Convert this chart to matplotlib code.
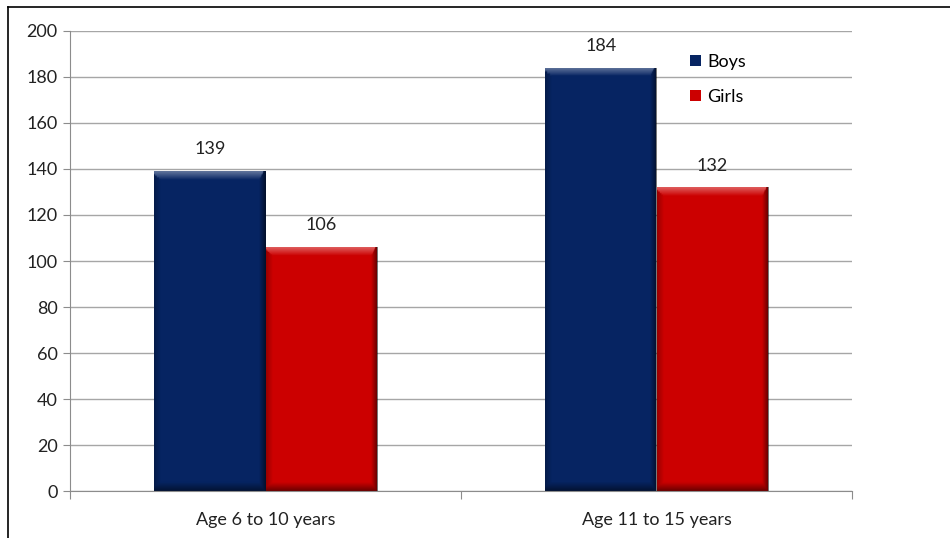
import numpy as np
import matplotlib
matplotlib.use("Agg")
import matplotlib.pyplot as plt
from matplotlib.lines import Line2D

plt.rcParams['font.family'] = ['Lato', 'DejaVu Sans']

# data
categories = ['Age 6 to 10 years', 'Age 11 to 15 years']
boys = [139, 184]
girls = [106, 132]
series_names = ['Boys', 'Girls']
colors = ['#062462', '#cc0000']
yticks = list(range(0, 201, 20))

FS = 13


def bevel(ax, patch):
    """Overlay a soft bevel shading on a bar, clipped to the bar."""
    x0, y0 = patch.get_x(), patch.get_y()
    w, h = patch.get_width(), patch.get_height()
    n = 200
    xs = np.linspace(0, 1, n)
    ys = np.linspace(0, 1, n)
    X, Y = np.meshgrid(xs, ys)
    ex = 0.06
    ey = 0.012 * 200 / max(h, 1)
    shade = np.zeros((n, n, 4))
    right = np.clip(1 - (1 - X) / ex, 0, 1)
    left = np.clip(1 - X / ex, 0, 1)
    top = np.clip(1 - (1 - Y) / (ey * 1.5), 0, 1)
    bot = np.clip(1 - Y / (ey * 1.5), 0, 1)
    dark = np.maximum(right * 0.55, bot * 0.45)
    dark = np.maximum(dark, left * 0.25)
    light = top * 0.35
    alpha = np.maximum(dark, light)
    shade[..., :3] = np.where((light > dark)[..., None], 1.0, 0.0)
    shade[..., 3] = alpha
    im = ax.imshow(shade, extent=(x0, x0 + w, y0, y0 + h), origin='lower',
                   aspect='auto', interpolation='bilinear', zorder=3)
    im.set_clip_path(patch)


fig = plt.figure(figsize=(9.5, 5.38), dpi=100)
ax = fig.add_axes([70 / 950, 1 - 491 / 538, 782 / 950, 460 / 538])

x = np.arange(len(categories))
width = 0.284
for i, (vals, name, col) in enumerate(zip([boys, girls], series_names, colors)):
    pos = x + (i - 0.5) * width
    bars = ax.bar(pos, vals, width, color=col, label=name, zorder=2,
                  edgecolor='none')
    for b, v in zip(bars, vals):
        bevel(ax, b)
        ax.text(b.get_x() + b.get_width() / 2, v + 6, str(v), ha='center',
                va='bottom', fontsize=FS, color='#222222', zorder=4)

ax.set_xlim(-0.5, 1.5)
ax.set_ylim(0, 200)
ax.set_yticks(yticks)
ax.yaxis.grid(True, color='#a6a6a6', linewidth=1)
ax.set_axisbelow(True)

ax.set_xticks([-0.5, 0.5, 1.5])
ax.set_xticklabels([])
ax.set_xticks(x, minor=True)
ax.set_xticklabels(categories, minor=True)
ax.tick_params(axis='x', which='minor', length=0, pad=15, labelsize=FS,
               labelcolor='#222222')
ax.tick_params(axis='x', which='major', length=6, color='#8c8c8c')
ax.tick_params(axis='y', length=5, color='#8c8c8c', labelsize=FS,
               labelcolor='#222222', pad=4)

for s in ['top', 'right']:
    ax.spines[s].set_visible(False)
for s in ['left', 'bottom']:
    ax.spines[s].set_color('#8c8c8c')

leg = ax.legend(loc='upper left', bbox_to_anchor=(681 / 950, 1 - 45 / 538),
                bbox_transform=fig.transFigure, frameon=False, fontsize=FS,
                handlelength=0.6, handleheight=0.6, handletextpad=0.35,
                labelspacing=1.05, borderpad=0)

# outer frame (top and left edges visible)
fig.add_artist(Line2D([8 / 950, 1], [1 - 7 / 538, 1 - 7 / 538],
                      color='black', linewidth=1.2, transform=fig.transFigure))
fig.add_artist(Line2D([8 / 950, 8 / 950], [0, 1 - 7 / 538],
                      color='black', linewidth=1.2, transform=fig.transFigure))

fig.savefig('out.png', dpi=100)
